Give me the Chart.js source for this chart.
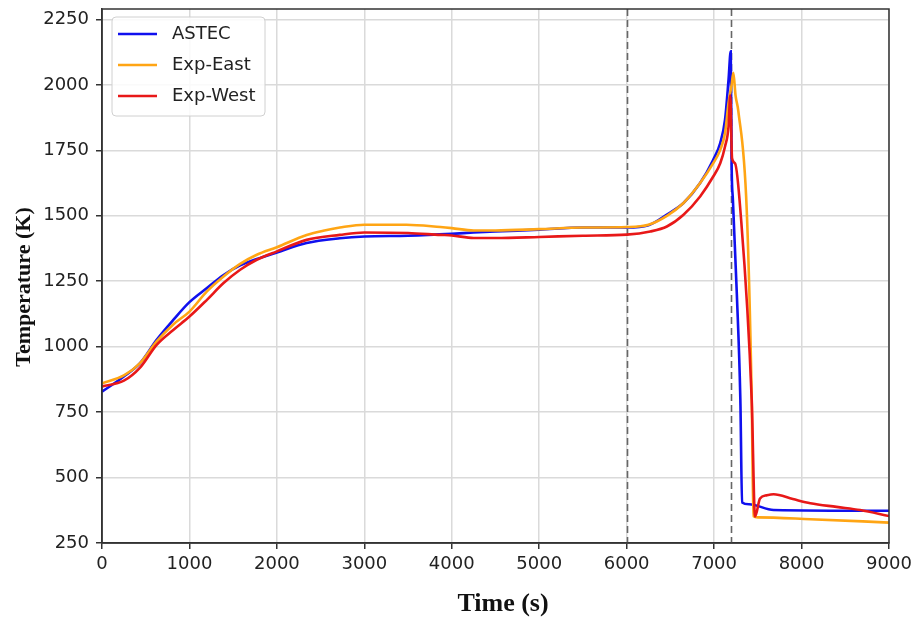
<!DOCTYPE html>
<html>
<head>
<meta charset="utf-8">
<script src="https://cdn.jsdelivr.net/npm/chart.js@4.4.1/dist/chart.umd.min.js"></script>
<style>
  html, body { margin: 0; padding: 0; background: #fff; }
  #wrap { width: 916px; height: 623px; }
</style>
</head>
<body>
<div id="wrap"><canvas id="tempChart" width="916" height="623"></canvas></div>
<script>
// values
const astecTime = [0, 250, 435, 625, 815, 1000, 1200, 1390, 1580, 1770, 2000, 2340, 2720, 3000, 3500, 4000, 4250, 4500, 5000, 5500, 6000, 6250, 6460, 6650, 6840, 6990, 7070, 7125, 7165, 7190, 7200, 7215, 7260, 7300, 7320, 7400, 7680, 9000];
const astecTemp = [828, 886, 937, 1026, 1102, 1170, 1224, 1274, 1311, 1335, 1360, 1396, 1414, 1421, 1424, 1431, 1436, 1440, 1447, 1455, 1455, 1464, 1505, 1549, 1625, 1714, 1778, 1867, 2020, 2128, 1700, 1560, 1200, 800, 405, 398, 376, 373];

const eastTime = [0, 250, 435, 625, 815, 1000, 1200, 1390, 1580, 1770, 2000, 2340, 2530, 2720, 3000, 3480, 3870, 4000, 4250, 4500, 5000, 5500, 6000, 6250, 6460, 6650, 6840, 6990, 7070, 7125, 7165, 7200, 7220, 7245, 7277, 7373, 7430, 7450, 7500, 8100, 9000];
const eastTemp = [860, 890, 937, 1020, 1085, 1134, 1211, 1268, 1316, 1351, 1380, 1427, 1443, 1455, 1466, 1466, 1457, 1453, 1444, 1444, 1449, 1455, 1457, 1466, 1500, 1549, 1625, 1701, 1752, 1816, 1931, 2000, 2046, 1960, 1900, 1523, 800, 352, 348, 341, 328];

const westTime = [0, 250, 435, 625, 815, 1000, 1200, 1390, 1580, 1770, 2000, 2340, 2720, 3000, 3500, 3870, 4000, 4250, 4500, 5000, 5500, 6000, 6270, 6460, 6650, 6840, 6990, 7070, 7125, 7165, 7185, 7205, 7240, 7300, 7430, 7468, 7525, 7600, 7680, 7900, 8100, 8400, 8670, 9000];
const westTemp = [848, 870, 920, 1007, 1064, 1115, 1179, 1243, 1294, 1332, 1364, 1408, 1427, 1436, 1434, 1427, 1425, 1415, 1415, 1419, 1424, 1428, 1440, 1459, 1504, 1574, 1650, 1701, 1765, 1841, 1960, 1720, 1700, 1523, 797, 351, 420, 432, 436, 418, 402, 388, 376, 353];

const seriesNames = ['ASTEC', 'Exp-East', 'Exp-West'];
const seriesColors = ['#1010ee', '#ffa514', '#e81818'];

const xTicks = [0, 1000, 2000, 3000, 4000, 5000, 6000, 7000, 8000, 9000];
const yTicks = [250, 500, 750, 1000, 1250, 1500, 1750, 2000, 2250];
const markerTimes = [6000, 7190];
const xTitle = 'Time (s)';
const yTitle = 'Temperature (K)';

function toPoints(xs, ys) {
    return xs.map((x, i) => ({ x: x, y: ys[i] }));
}

const markerLines = {
    id: 'markerLines',
    beforeDatasetsDraw(chart) {
        const { ctx, chartArea, scales } = chart;
        ctx.save();
        ctx.strokeStyle = '#666';
        ctx.lineWidth = 1.6;
        ctx.setLineDash([7, 4]);
        markerTimes.forEach(t => {
            const px = Math.round(scales.x.getPixelForValue(t)) + 0.5;
            ctx.beginPath();
            ctx.moveTo(px, chartArea.top);
            ctx.lineTo(px, chartArea.bottom);
            ctx.stroke();
        });
        ctx.restore();
    },
    afterDraw(chart) {
        const { ctx, chartArea } = chart;
        ctx.save();
        // frame
        ctx.strokeStyle = '#333';
        ctx.lineWidth = 1.5;
        ctx.strokeRect(chartArea.left, chartArea.top, chartArea.right - chartArea.left, chartArea.bottom - chartArea.top);

        // axis titles
        ctx.fillStyle = '#111';
        ctx.textAlign = 'center';
        ctx.textBaseline = 'middle';
        ctx.font = 'bold 26px "Liberation Serif"';
        ctx.fillText(xTitle, 503, 604);
        ctx.save();
        ctx.translate(24, 287);
        ctx.rotate(-Math.PI / 2);
        ctx.font = 'bold 22px "Liberation Serif"';
        ctx.fillText(yTitle, 0, 0);
        ctx.restore();

        // legend box
        const bx = chartArea.left + 10, by = chartArea.top + 8, bw = 153, bh = 99;
        ctx.fillStyle = 'rgba(255,255,255,0.85)';
        ctx.strokeStyle = '#d0d0d0';
        ctx.lineWidth = 1;
        ctx.beginPath();
        ctx.roundRect(bx, by, bw, bh, 4);
        ctx.fill();
        ctx.stroke();

        ctx.font = '18px "DejaVu Sans"';
        ctx.textBaseline = 'middle';
        ctx.textAlign = 'left';
        seriesNames.forEach((name, i) => {
            const yy = by + 17 + i * 31;
            ctx.strokeStyle = seriesColors[i];
            ctx.lineWidth = 2.6;
            ctx.beginPath();
            ctx.moveTo(bx + 6, yy);
            ctx.lineTo(bx + 45, yy);
            ctx.stroke();
            ctx.fillStyle = '#222';
            ctx.fillText(name, bx + 60, yy);
        });
        ctx.restore();
    }
};

const ctx = document.getElementById('tempChart').getContext('2d');
new Chart(ctx, {
    type: 'line',
    data: {
        datasets: [
            {
                label: seriesNames[0],
                data: toPoints(astecTime, astecTemp),
                borderColor: seriesColors[0],
                order: 3
            },
            {
                label: seriesNames[1],
                data: toPoints(eastTime, eastTemp),
                borderColor: seriesColors[1],
                order: 2
            },
            {
                label: seriesNames[2],
                data: toPoints(westTime, westTemp),
                borderColor: seriesColors[2],
                order: 1
            }
        ]
    },
    options: {
        responsive: false,
        animation: false,
        devicePixelRatio: 1,
        layout: { padding: { left: 0, right: 27, top: 9, bottom: 0 } },
        elements: {
            line: { borderWidth: 2.6, cubicInterpolationMode: 'monotone', fill: false },
            point: { radius: 0 }
        },
        plugins: {
            legend: { display: false },
            tooltip: { enabled: false }
        },
        scales: {
            x: {
                type: 'linear',
                min: 0,
                max: 9000,
                afterBuildTicks: scale => { scale.ticks = xTicks.map(v => ({ value: v })); },
                afterFit: scale => {
                    scale.height = 80;
                    scale.paddingLeft = 0;
                    scale.paddingRight = 0;
                },
                grid: { color: '#dadada', lineWidth: 1.5, tickLength: 6, tickColor: '#333' },
                border: { color: '#333', width: 1.5 },
                ticks: {
                    font: { family: 'DejaVu Sans', size: 18 },
                    color: '#222',
                    padding: 5,
                    maxRotation: 0,
                    callback: value => String(value)
                }
            },
            y: {
                min: 250,
                max: 2290,
                afterBuildTicks: scale => { scale.ticks = yTicks.map(v => ({ value: v })); },
                afterFit: scale => {
                    scale.width = 102;
                    scale.paddingTop = 0;
                    scale.paddingBottom = 0;
                },
                grid: { color: '#dadada', lineWidth: 1.5, tickLength: 6, tickColor: '#333' },
                border: { color: '#333', width: 1.5 },
                ticks: {
                    font: { family: 'DejaVu Sans', size: 18 },
                    color: '#222',
                    padding: 7,
                    callback: value => String(value)
                }
            }
        }
    },
    plugins: [markerLines]
});
</script>
</body>
</html>
